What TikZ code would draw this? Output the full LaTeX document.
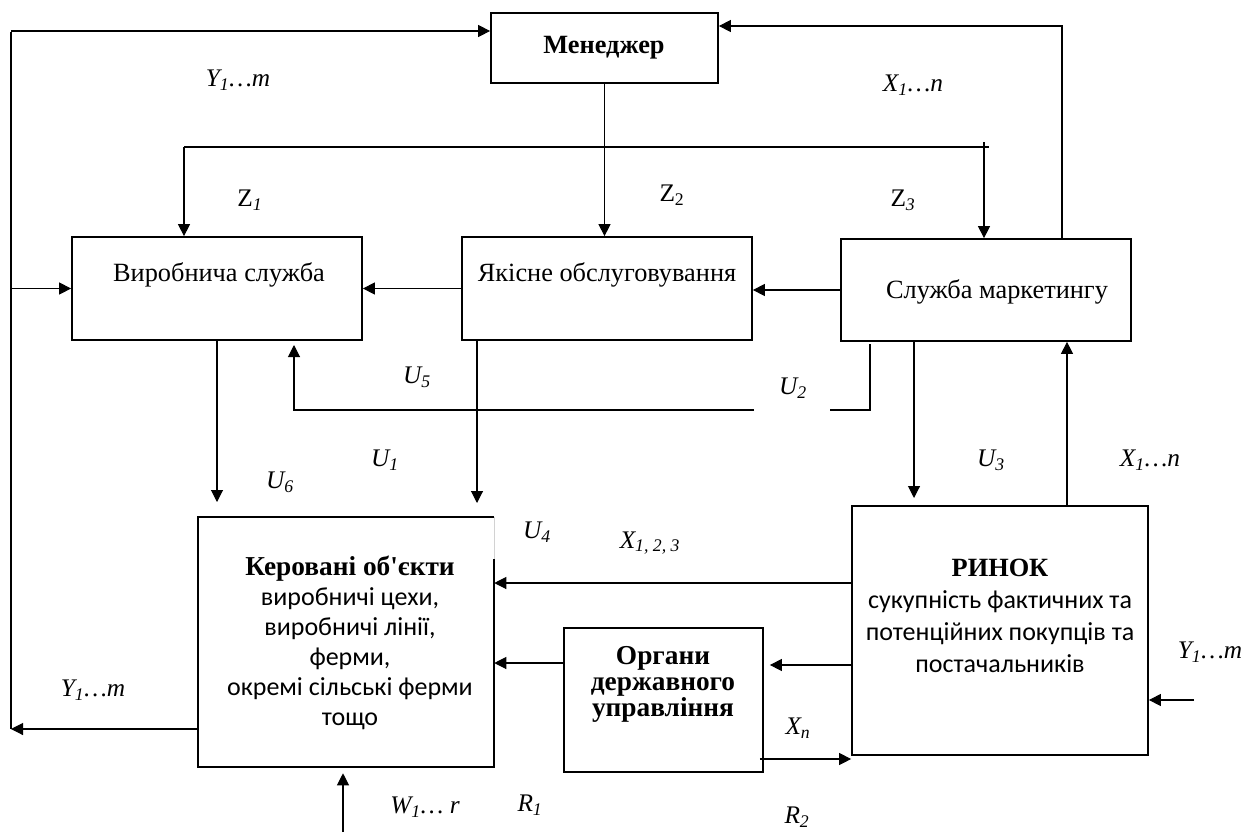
\documentclass[tikz,border=0pt]{standalone}
\usepackage{fontspec}
\setmainfont{Liberation Serif}
\newfontfamily\calfont{Carlito}
\usetikzlibrary{arrows.meta}

\begin{document}
\begin{tikzpicture}[x=0.75pt,y=-0.75pt,
  box/.style={draw, line width=1.3pt, inner sep=0pt},
  conn/.style={line width=0.8pt},
  arr/.style={conn, -{Triangle[length=9pt,width=9pt]}},
  sig/.style={font=\fontsize{19}{22}\selectfont\itshape, inner sep=0pt},
  txt/.style={font=\fontsize{19.75}{22}\selectfont, inner sep=0pt, align=center},
]
\useasboundingbox (0,0) rectangle (1260,832);

% ---------- blocks ----------
\node[box, minimum width=170.25pt, minimum height=52.5pt] (man) at (604.5,48) {};
\node[txt, font=\fontsize{19.75}{22}\selectfont\bfseries] (man-t) at (604,48) {Менеджер};

\node[box, minimum width=217.5pt, minimum height=77.25pt] (vyr) at (217,288.5) {};
\node[txt] (vyr-t) at (219,275) {Виробнича служба};

\node[box, minimum width=217.5pt, minimum height=77.25pt] (yak) at (607,288.5) {};
\node[txt] (yak-t) at (607,275) {Якісне обслуговування};

\node[box, minimum width=217.5pt, minimum height=76.5pt] (sm) at (986,290) {};
\node[txt] (sm-t) at (997,292) {Служба маркетингу};

% controlled objects: the upper part of the right side is left almost blank
\node[inner sep=0pt, minimum width=222pt, minimum height=187.5pt] (ker) at (346,642) {};
\draw[line width=1.3pt] ([yshift=-32pt]ker.north east) -- (ker.south east)
  -- (ker.south west) -- (ker.north west) -- (ker.north east);
\draw[gray!35, line width=0.4pt] (ker.north east) -- ([yshift=-32pt]ker.north east);
\node[txt, font=\fontsize{19.5}{22.5}\selectfont] (ker-t) at (350,643)
  {{\fontsize{20.5}{22.5}\selectfont\bfseries Керовані об\textquotesingle єкти}\\
   \calfont виробничі цехи,\\
   \calfont виробничі лінії,\\
   \calfont ферми,\\
   \calfont окремі сільські ферми\\
   \calfont тощо};

\node[box, minimum width=149.25pt, minimum height=108pt] (org) at (663.5,700) {};
\node[txt, font=\fontsize{20.5}{19.5}\selectfont\bfseries] (org-t) at (663,684)
  {Органи\\державного\\управління};

\node[box, minimum width=222pt, minimum height=186.75pt] (rin) at (1000,630.5) {};
\node[txt, font=\fontsize{19.5}{24}\selectfont] (rin-t) at (1000,616)
  {{\fontsize{19.75}{24}\selectfont\bfseries РИНОК}\\
   \calfont сукупність фактичних та\\
   \calfont потенційних покупців та\\
   \calfont постачальників};

% ---------- reference points of the connectors ----------
\coordinate (lt) at (11,32);
\coordinate (lb) at (11,729);
\coordinate (in1) at (11,31);
\coordinate (zl) at (184,147);
\coordinate (zr) at (989,147);
\coordinate (z3) at (984,142);
\coordinate (xt) at (1062,26);
\coordinate (u6) at (217,502);
\coordinate (u1) at (477,503);
\coordinate (u3) at (914,498);
\coordinate (x1n) at (1067,0);
\coordinate (u2a) at (870,344);
\coordinate (u2b) at (830,410);
\coordinate (u5a) at (754,410);
\coordinate (u5b) at (294,345);
\coordinate (y583) at (0,583);
\coordinate (y663) at (0,663);
\coordinate (y665) at (0,665);
\coordinate (y759) at (0,759);
\coordinate (yin) at (1194,700);
\coordinate (win) at (343,832);

% ---------- connectors ----------
% outputs Y fed back to the manager and the production service
\draw[conn] (lt) -- (lb);
\draw[arr] (in1) -- (man.west |- in1);
\draw[arr] (lt |- vyr.west) -- (vyr.west);
\draw[arr] (ker.west |- lb) -- (lb);

% manager commands Z1, Z2, Z3
\draw[arr] (man.south) -- (man.south |- yak.north);
\draw[conn] (zl) -- (zr);
\draw[arr] (zl) -- (zl |- vyr.north);
\draw[arr] (z3) -- (z3 |- sm.north);

% market information to the manager
\draw[arr] (xt |- sm.north) -- (xt) -- (man.east |- xt);

% links between the services
\draw[arr] (yak.west) -- (vyr.east);
\draw[arr] (sm.west) -- (sm.west -| yak.east);
\draw[conn] (u2a) |- (u2b);
\draw[arr] (u5a) -| (u5b);

% controls U
\draw[arr] (vyr.south -| u6) -- (u6);
\draw[arr] (yak.south -| u1) -- (u1);
\draw[arr] (sm.south -| u3) -- (u3);
\draw[arr] (rin.north -| x1n) -- (sm.south -| x1n);

% market, state bodies and controlled objects
\draw[arr] (rin.west |- y583) -- (ker.east |- y583);
\draw[arr] (rin.west |- y665) -- ([xshift=4.5pt]org.east |- y665);
\draw[arr] (org.west |- y663) -- (ker.east |- y663);
\draw[arr] ([xshift=-3pt]org.east |- y759) -- (rin.west |- y759);
\draw[arr] (yin) -- (rin.east |- yin);
\draw[arr] (win) -- ([yshift=-4.5pt]ker.south -| win);

% ---------- signal labels ----------
\node[sig] (l-y1) at (238,80) {Y\textsubscript{1}…m};
\node[sig] (l-x1) at (913,85) {X\textsubscript{1}…n};
\node[sig] (l-z1) at (250,200) {\upshape Z\textsubscript{\itshape 1}};
\node[sig] (l-z2) at (672,195) {\upshape Z\textsubscript{2}};
\node[sig] (l-z3) at (903,200) {\upshape Z\textsubscript{\itshape 3}};
\node[sig] (l-u5) at (417,377) {U\textsubscript{5}};
\node[sig] (l-u2) at (793,388) {U\textsubscript{2}};
\node[sig] (l-u1) at (385,460) {U\textsubscript{1}};
\node[sig] (l-u6) at (280,482) {U\textsubscript{6}};
\node[sig] (l-u3) at (991,460) {U\textsubscript{3}};
\node[sig] (l-x2) at (1150,460) {X\textsubscript{1}…n};
\node[sig] (l-u4) at (537,532) {U\textsubscript{4}};
\node[sig] (l-x3) at (650,543) {X\textsubscript{1, 2, 3}};
\node[sig] (l-y2) at (93,690) {Y\textsubscript{1}…m};
\node[sig] (l-y3) at (1210,652) {Y\textsubscript{1}…m};
\node[sig] (l-xn) at (798,728) {X\textsubscript{n}};
\node[sig] (l-w) at (425,807) {W\textsubscript{1}… r};
\node[sig] (l-r1) at (530,805) {R\textsubscript{1}};
\node[sig] (l-r2) at (797,817) {R\textsubscript{2}};
\end{tikzpicture}
\end{document}
